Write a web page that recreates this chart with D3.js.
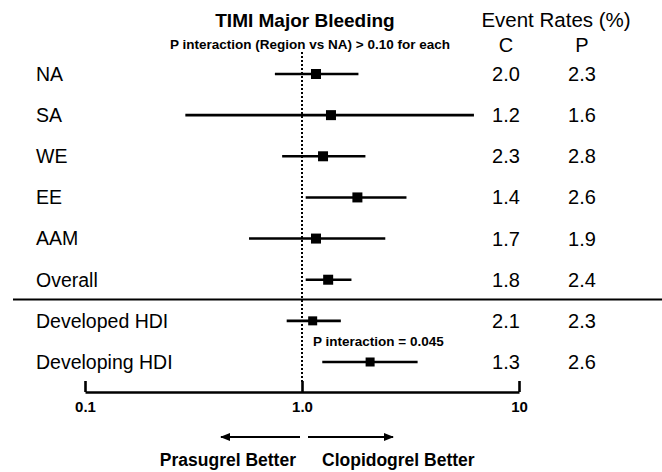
<!DOCTYPE html>
<html>
<head>
<meta charset="utf-8">
<script src="https://cdn.jsdelivr.net/npm/d3@7"></script>
<style>
  html, body { margin: 0; padding: 0; background: #fff; }
  svg { display: block; font-family: "Liberation Sans", Arial, Helvetica, sans-serif; }
</style>
</head>
<body>
<svg id="chart" width="662" height="472"></svg>
<script>
const categories = ["NA", "SA", "WE", "EE", "AAM", "Overall", "Developed HDI", "Developing HDI"];
const hazardRatio = [1.16, 1.36, 1.25, 1.80, 1.16, 1.32, 1.12, 2.06];
const ciLower = [0.75, 0.29, 0.81, 1.04, 0.57, 1.04, 0.85, 1.24];
const ciUpper = [1.82, 6.2, 1.96, 3.03, 2.42, 1.69, 1.51, 3.41];
const rateC = ["2.0", "1.2", "2.3", "1.4", "1.7", "1.8", "2.1", "1.3"];
const rateP = ["2.3", "1.6", "2.8", "2.6", "1.9", "2.4", "2.3", "2.6"];
const tickValues = [0.1, 1, 10];
const tickLabels = ["0.1", "1.0", "10"];

const svg = d3.select("#chart");

const x = d3.scaleLog().domain([0.1, 10]).range([85, 519]);
const y = d3.scalePoint().domain(categories).range([74, 362]);

const rows = categories.map((c, i) => ({
  cat: c, hr: hazardRatio[i], lo: ciLower[i], hi: ciUpper[i], c: rateC[i], p: rateP[i], hdi: i >= 6
}));

// Title and headers
svg.append("text").attr("x", 305).attr("y", 27).attr("text-anchor", "middle")
  .attr("font-size", 19).attr("font-weight", "bold").text("TIMI Major Bleeding");
svg.append("text").attr("x", 310).attr("y", 49).attr("text-anchor", "middle")
  .attr("font-size", 13.5).attr("font-weight", "bold").text("P interaction (Region vs NA) > 0.10 for each");
svg.append("text").attr("x", 556).attr("y", 27).attr("text-anchor", "middle")
  .attr("font-size", 20.5).text("Event Rates (%)");
svg.append("text").attr("x", 506).attr("y", 52).attr("text-anchor", "middle")
  .attr("font-size", 20).text("C");
svg.append("text").attr("x", 582).attr("y", 52).attr("text-anchor", "middle")
  .attr("font-size", 20).text("P");

// Reference line at 1.0
svg.append("line").attr("x1", x(1)).attr("x2", x(1)).attr("y1", 52).attr("y2", 382)
  .attr("stroke", "#000").attr("stroke-width", 2).attr("stroke-dasharray", "2,2");

// Separator
svg.append("line").attr("x1", 13).attr("x2", 662).attr("y1", 299.5).attr("y2", 299.5)
  .attr("stroke", "#000").attr("stroke-width", 2);

// Row labels
const g = svg.append("g");
g.selectAll("text.lab").data(rows).join("text").attr("class", "lab")
  .attr("x", 36).attr("y", d => y(d.cat)).attr("dy", "0.35em")
  .attr("font-size", 19.5).text(d => d.cat);

// CI lines
g.selectAll("line.ci").data(rows).join("line").attr("class", "ci")
  .attr("x1", d => x(d.lo)).attr("x2", d => x(d.hi))
  .attr("y1", d => y(d.cat)).attr("y2", d => y(d.cat))
  .attr("stroke", "#000").attr("stroke-width", 2.6);

// Point estimates
g.selectAll("rect.pt").data(rows).join("rect").attr("class", "pt")
  .attr("x", d => x(d.hr) - (d.hdi ? 4.5 : 5))
  .attr("y", d => y(d.cat) - (d.hdi ? 4.5 : 5))
  .attr("width", d => d.hdi ? 9 : 10).attr("height", d => d.hdi ? 9 : 10)
  .attr("fill", "#000");

// Event rates
g.selectAll("text.rc").data(rows).join("text").attr("class", "rc")
  .attr("x", 506).attr("y", d => y(d.cat)).attr("dy", "0.35em").attr("text-anchor", "middle")
  .attr("font-size", 20).text(d => d.c);
g.selectAll("text.rp").data(rows).join("text").attr("class", "rp")
  .attr("x", 582).attr("y", d => y(d.cat)).attr("dy", "0.35em").attr("text-anchor", "middle")
  .attr("font-size", 20).text(d => d.p);

// P interaction annotation
svg.append("text").attr("x", 313).attr("y", (y("Developed HDI") + y("Developing HDI")) / 2 + 5)
  .attr("font-size", 13.5).attr("font-weight", "bold").text("P interaction = 0.045");

// Axis
const axis = d3.axisBottom(x).tickValues(tickValues)
  .tickFormat((d, i) => tickLabels[i]).tickSizeInner(-11).tickSizeOuter(0).tickPadding(9);
const ax = svg.append("g").attr("transform", "translate(0,392)").call(axis);
ax.select(".domain").attr("stroke-width", 2.6);
ax.selectAll(".tick line").attr("stroke-width", 2.6);
ax.selectAll(".tick text").attr("font-size", 15).attr("font-weight", "bold")
  .attr("font-family", "'Liberation Sans', Arial, sans-serif").attr("fill", "#000");

// Arrows
const defs = svg.append("defs");
defs.append("marker").attr("id", "ah").attr("viewBox", "0 0 10 10")
  .attr("refX", 9).attr("refY", 5).attr("markerWidth", 5).attr("markerHeight", 5)
  .attr("markerUnits", "strokeWidth").attr("orient", "auto")
  .append("path").attr("d", "M0,1L10,5L0,9Z").attr("fill", "#000");
svg.append("line").attr("x1", 300).attr("x2", 221).attr("y1", 437).attr("y2", 437)
  .attr("stroke", "#000").attr("stroke-width", 2).attr("marker-end", "url(#ah)");
svg.append("line").attr("x1", 308).attr("x2", 393).attr("y1", 437).attr("y2", 437)
  .attr("stroke", "#000").attr("stroke-width", 2).attr("marker-end", "url(#ah)");

svg.append("text").attr("x", 296).attr("y", 466).attr("text-anchor", "end")
  .attr("font-size", 17.5).attr("font-weight", "bold").text("Prasugrel Better");
svg.append("text").attr("x", 322).attr("y", 466)
  .attr("font-size", 17.5).attr("font-weight", "bold").text("Clopidogrel Better");
</script>
</body>
</html>
